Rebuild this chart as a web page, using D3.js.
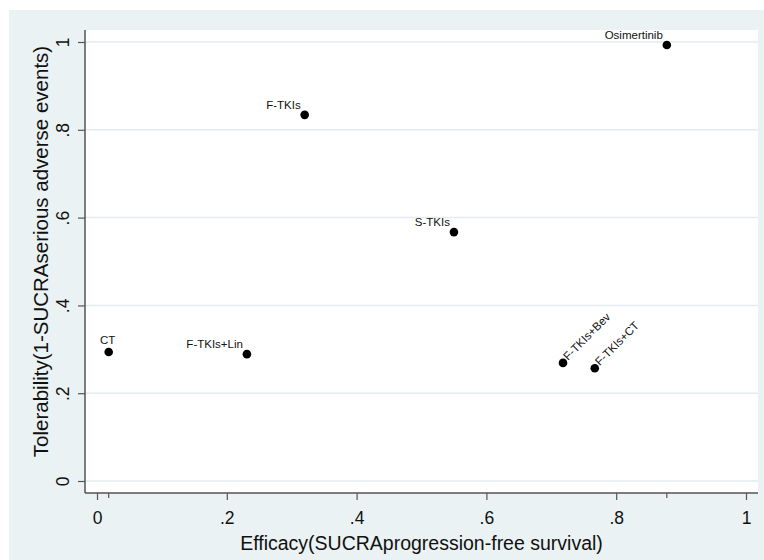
<!DOCTYPE html>
<html>
  <head>
    <meta charset="utf-8">
    <script src="https://d3js.org/d3.v7.min.js"></script>
    <style>
      body { margin: 0; background: #fff; }
      text { font-family: "Liberation Sans", Arial, sans-serif; fill: #111; }
    </style>
  </head>
  <body>
    <script>
      // treatments and their SUCRA values
      var treatments = ["Osimertinib", "F-TKIs", "S-TKIs", "CT", "F-TKIs+Lin", "F-TKIs+Bev", "F-TKIs+CT"];
      var efficacy   = [0.878, 0.320, 0.550, 0.018, 0.231, 0.718, 0.767];
      var tolerability = [0.993, 0.834, 0.567, 0.294, 0.289, 0.269, 0.257];
      // label clock positions (Stata style mlabvposition); 45 = rotated
      var labelPos = [11, 11, 11, 12, 11, 45, 45];
      var xTicks = [0, 0.2, 0.4, 0.6, 0.8, 1];
      var yTicks = [0, 0.2, 0.4, 0.6, 0.8, 1];
      var xTitle = "Efficacy(SUCRAprogression-free survival)";
      var yTitle = "Tolerability(1-SUCRAserious adverse events)";

      var W = 764, H = 560;
      var plot = {left: 85, right: 758, top: 30, bottom: 493};

      var fmt = function (d) {
        if (d === 0 || d === 1) return String(d);
        return d3.format(".1f")(d).replace(/^0/, "");
      };

      var svg = d3.select("body").append("svg")
          .attr("width", W)
          .attr("height", H);

      // outer graph region
      svg.append("rect")
        .attr("x", 9).attr("y", 10)
        .attr("width", W - 9).attr("height", H - 10)
        .attr("fill", "#eaf2f3");

      // plot region
      svg.append("rect")
        .attr("x", plot.left).attr("y", plot.top)
        .attr("width", plot.right - plot.left).attr("height", plot.bottom - plot.top)
        .attr("fill", "#fff");

      var x = d3.scaleLinear().domain([0, 1]).range([97, 746]);
      var y = d3.scaleLinear().domain([0, 1]).range([481, 42]);

      // horizontal gridlines
      svg.append("g").selectAll("line")
        .data(yTicks)
        .join("line")
          .attr("x1", plot.left).attr("x2", plot.right)
          .attr("y1", d => y(d)).attr("y2", d => y(d))
          .attr("stroke", "#e3ecef")
          .attr("stroke-width", 1.5);

      // y axis
      var yAxis = svg.append("g")
          .attr("transform", "translate(" + plot.left + ",0)")
          .call(d3.axisLeft(y).tickValues(yTicks).tickFormat(fmt).tickSize(7).tickPadding(12));
      yAxis.select(".domain").remove();
      yAxis.append("line")
        .attr("x1", 0).attr("x2", 0)
        .attr("y1", plot.top).attr("y2", plot.bottom)
        .attr("stroke", "#555").attr("stroke-width", 1.5);
      yAxis.selectAll(".tick line").attr("stroke", "#555").attr("stroke-width", 1.2);
      yAxis.selectAll(".tick text")
        .attr("font-size", 17.5)
        .attr("fill", "#111")
        .attr("text-anchor", "middle")
        .attr("x", null)
        .attr("transform", "translate(-22,0) rotate(-90)")
        .attr("dy", "0.35em");

      // x axis
      var xAxis = svg.append("g")
          .attr("transform", "translate(0," + plot.bottom + ")")
          .call(d3.axisBottom(x).tickValues(xTicks).tickFormat(fmt).tickSize(7).tickPadding(12));
      xAxis.select(".domain").remove();
      xAxis.append("line")
        .attr("x1", plot.left).attr("x2", plot.right)
        .attr("y1", 0).attr("y2", 0)
        .attr("stroke", "#555").attr("stroke-width", 1.5);
      xAxis.selectAll(".tick line").attr("stroke", "#555").attr("stroke-width", 1.2);
      xAxis.selectAll(".tick text").attr("font-size", 17.5).attr("fill", "#111");

      // small ticks at the data range ends
      xAxis.selectAll(".rng")
        .data(d3.extent(efficacy))
        .join("line")
          .attr("class", "rng")
          .attr("x1", d => x(d)).attr("x2", d => x(d))
          .attr("y1", 0).attr("y2", 5)
          .attr("stroke", "#555").attr("stroke-width", 1.2);

      // axis titles
      svg.append("text")
        .attr("x", (plot.left + plot.right) / 2)
        .attr("y", 550)
        .attr("text-anchor", "middle")
        .attr("font-size", 19.5)
        .text(xTitle);

      svg.append("text")
        .attr("transform", "translate(48," + ((plot.top + plot.bottom) / 2 - 10) + ") rotate(-90)")
        .attr("text-anchor", "middle")
        .attr("font-size", 20.5)
        .text(yTitle);

      // points
      var pts = treatments.map((t, i) => ({name: t, x: efficacy[i], y: tolerability[i], pos: labelPos[i]}));

      var g = svg.append("g");
      g.selectAll("circle")
        .data(pts)
        .join("circle")
          .attr("cx", d => x(d.x))
          .attr("cy", d => y(d.y))
          .attr("r", 4.3)
          .attr("fill", "#000");

      g.selectAll("text")
        .data(pts)
        .join("text")
          .attr("font-size", 11.5)
          .attr("fill", "#111")
          .attr("text-anchor", d => d.pos === 11 ? "end" : d.pos === 12 ? "middle" : "start")
          .attr("transform", function (d) {
            var cx = x(d.x), cy = y(d.y);
            if (d.pos === 11) return "translate(" + (cx - 4) + "," + (cy - 6) + ")";
            if (d.pos === 12) return "translate(" + (cx - 1) + "," + (cy - 8) + ")";
            return "translate(" + (cx + 5) + "," + (cy - 2) + ") rotate(-45)";
          })
          .text(d => d.name);
    </script>
  </body>
</html>
